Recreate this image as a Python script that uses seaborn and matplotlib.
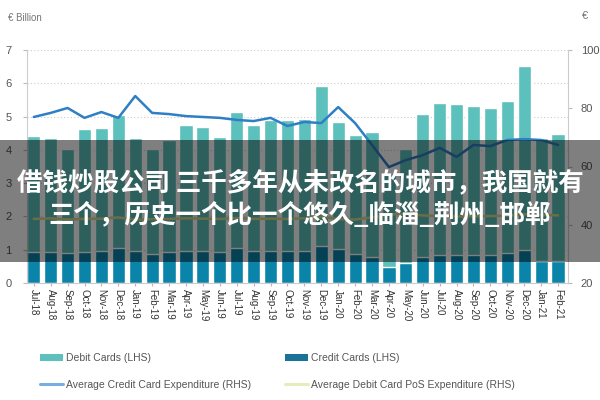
import numpy as np
import pandas as pd
import seaborn as sns
import matplotlib.pyplot as plt
from matplotlib.patches import Patch, Rectangle
from matplotlib.lines import Line2D

months = ["Jul-18", "Aug-18", "Sep-18", "Oct-18", "Nov-18", "Dec-18",
          "Jan-19", "Feb-19", "Mar-19", "Apr-19", "May-19", "Jun-19",
          "Jul-19", "Aug-19", "Sep-19", "Oct-19", "Nov-19", "Dec-19",
          "Jan-20", "Feb-20", "Mar-20", "Apr-20", "May-20", "Jun-20",
          "Jul-20", "Aug-20", "Sep-20", "Oct-20", "Nov-20", "Dec-20",
          "Jan-21", "Feb-21"]

# € billion (LHS)
debit_cards = [3.47, 3.41, 3.11, 3.68, 3.68, 4.00, 3.38, 3.15, 3.37, 3.77, 3.71, 3.46,
               4.09, 3.77, 3.93, 3.93, 3.95, 4.81, 3.82, 3.57, 3.74, 2.81, 3.43, 4.30,
               4.57, 4.54, 4.48, 4.42, 4.58, 5.53, 3.68, 3.80]
credit_cards = [0.94, 0.94, 0.91, 0.94, 0.97, 1.04, 0.97, 0.87, 0.92, 0.97, 0.97, 0.92,
                1.04, 0.97, 0.97, 0.97, 0.97, 1.11, 1.01, 0.87, 0.79, 0.49, 0.59, 0.77,
                0.84, 0.84, 0.84, 0.84, 0.89, 0.99, 0.67, 0.67]

# € (RHS)
avg_credit_exp = [77.0, 78.4, 80.1, 76.7, 78.7, 76.7, 84.2, 78.4, 78.0, 77.3, 77.0, 76.7,
                  76.0, 75.6, 76.7, 73.9, 75.3, 74.9, 80.4, 74.9, 67.4, 59.8, 62.2, 63.9,
                  66.4, 63.3, 67.4, 67.0, 69.1, 69.4, 69.1, 67.4]
avg_debit_pos = [42.0, 42.2, 41.8, 42.0, 42.1, 42.5, 41.8, 41.9, 42.0, 42.2, 42.1, 42.0,
                 42.3, 42.0, 42.1, 42.0, 42.2, 42.8, 41.9, 41.8, 42.5, 43.5, 43.8, 43.2,
                 43.0, 42.8, 42.9, 43.0, 43.1, 43.6, 43.4, 43.2]

df = pd.DataFrame({"Month": months, "Debit": debit_cards, "Credit": credit_cards,
                   "AvgCredit": avg_credit_exp, "AvgDebit": avg_debit_pos})
df["Total"] = df["Debit"] + df["Credit"]
df["pos"] = np.arange(len(df))

sns.set_style("white")
plt.rcParams['font.family'] = ['Liberation Sans', 'DejaVu Sans']

teal = '#5cc0bc'
blue = '#0b84a9'
line_blue = '#2f7fc4'
line_yellow = '#d6de8e'

fig = plt.figure(figsize=(6, 4), dpi=100)
ax = fig.add_axes([0.045, 0.2925, 0.902, 0.5825])

sns.barplot(data=df, x="Month", y="Total", color=teal, width=0.78,
            saturation=1, ax=ax)
sns.barplot(data=df, x="Month", y="Credit", color=blue, width=0.78,
            saturation=1, ax=ax)
ax.set_ylim(0, 7)
ax.set_xlim(-0.4, 31.6)
ax.set_yticks(range(0, 8))
ax.yaxis.grid(True, color='#cccccc', linestyle=(0, (1, 2)), linewidth=0.8)
ax.set_axisbelow(True)
ax.set_xlabel("")
ax.set_ylabel("")
ax.tick_params(axis='y', labelsize=8, labelcolor='#555555', length=3,
               color='#bbbbbb', left=True, pad=8)
ax.tick_params(axis='x', labelsize=7, labelcolor='#333333', length=2,
               color='#e0a0b0', bottom=True, pad=2)
for lbl in ax.get_xticklabels():
    lbl.set_rotation(-90)
    lbl.set_ha('center')
    lbl.set_va('top')
for s in ['top', 'right']:
    ax.spines[s].set_visible(False)
ax.spines['left'].set_color('#cccccc')
ax.spines['bottom'].set_color('#cccccc')

ax2 = ax.twinx()
sns.lineplot(data=df, x="pos", y="AvgCredit", color=line_blue, linewidth=1.8, ax=ax2)
sns.lineplot(data=df, x="pos", y="AvgDebit", color=line_yellow, linewidth=1.8, ax=ax2)
ax2.set_ylim(20, 100)
ax2.set_yticks([20, 40, 60, 80, 100])
ax2.set_xlim(-0.4, 31.6)
ax2.set_xlabel("")
ax2.set_ylabel("")
ax2.tick_params(axis='y', labelsize=8, labelcolor='#555555', length=3,
                color='#bbbbbb', right=True, pad=6)
for s in ['top', 'left', 'bottom']:
    ax2.spines[s].set_visible(False)
ax2.spines['right'].set_color('#cccccc')

fig.text(0.013, 0.955, "€ Billion", fontsize=7, color='#777777', va='center')
fig.text(0.975, 0.96, "€", fontsize=8, color='#777777', va='center', ha='center')

handles = [Patch(facecolor=teal, edgecolor='none'),
           Line2D([0], [0], color='#7aaee0', linewidth=2.2),
           Patch(facecolor='#1a7396', edgecolor='none'),
           Line2D([0], [0], color='#e6ecbe', linewidth=2.2)]
labels = ["Debit Cards (LHS)", "Average Credit Card Expenditure (RHS)",
          "Credit Cards (LHS)", "Average Debit Card PoS Expenditure (RHS)"]
fig.legend(handles, labels, loc='upper left', bbox_to_anchor=(0.06, 0.128),
           ncol=2, frameon=False, fontsize=7.5, labelcolor='#555555',
           handlelength=2.2, handleheight=0.6, handletextpad=0.3,
           columnspacing=3.2, labelspacing=1.6, borderaxespad=0)

# overlay banner
fig.patches.append(Rectangle((0, 0.345), 1, 0.305, transform=fig.transFigure,
                             facecolor='black', alpha=0.5, edgecolor='none', zorder=10))
banner_font = ['Noto Sans CJK SC', 'DejaVu Sans']
fig.text(0.5, 0.542, "借钱炒股公司 三千多年从未改名的城市，我国就有", color='white',
         fontsize=18.4, fontweight='bold', family=banner_font, ha='center', va='center',
         zorder=11)
fig.text(0.5, 0.462, "三个，历史一个比一个悠久_临淄_荆州_邯郸", color='white',
         fontsize=18.4, fontweight='bold', family=banner_font, ha='center', va='center',
         zorder=11)

plt.savefig("out.png", dpi=100)
plt.close()
